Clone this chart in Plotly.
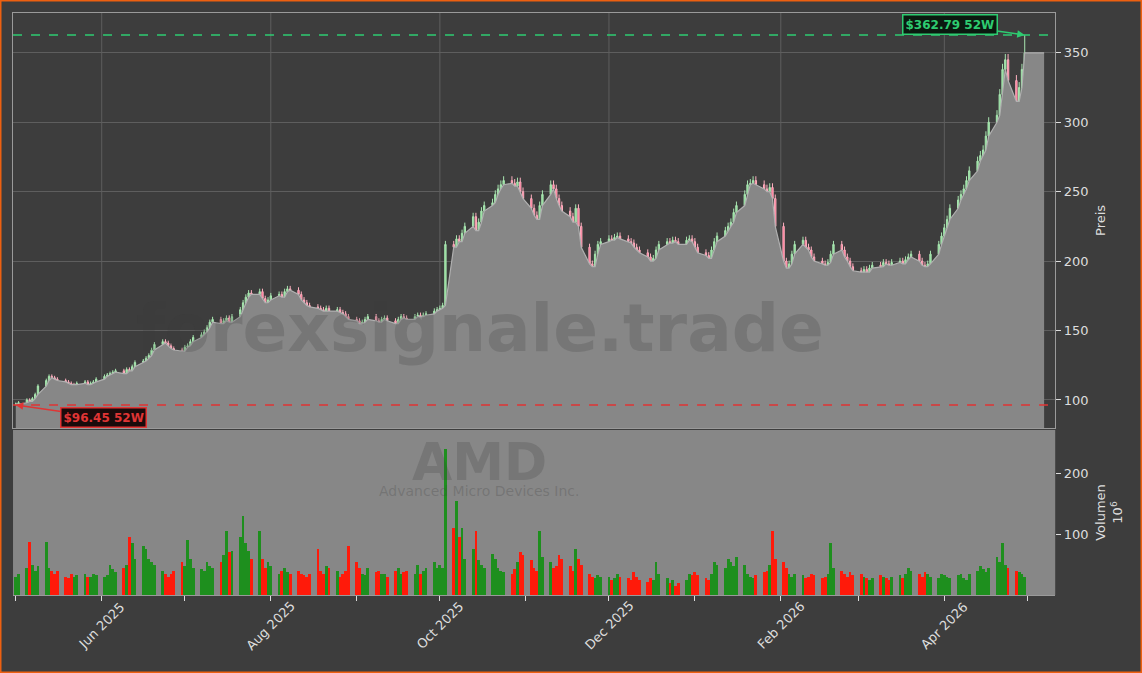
import pandas as pd
import plotly.graph_objects as go
from plotly.subplots import make_subplots

# Schlusskurse (USD), ein Wert pro Handelstag ab 01.05.2025
closes = [
    97, 98, 100, 99, 101, 104, 110, 114, 117, 116, 115, 114, 113, 112, 111,
    111, 112, 113, 111, 112, 113, 115, 117, 118, 119, 120, 121, 119, 122, 121,
    124, 127, 128, 130, 132, 136, 140, 142, 141, 139, 137, 136, 135, 138, 139,
    142, 145, 147, 149, 152, 156, 158, 155, 157, 159, 156, 160, 165, 170, 174,
    177, 176, 178, 173, 170, 172, 175, 176, 174, 178, 180, 179, 176, 172, 170,
    168, 167, 166, 165, 164, 166, 164, 165, 163, 162, 160, 158, 157, 155, 156,
    158, 160, 157, 156, 158, 159, 157, 155, 158, 160, 159, 158, 160, 161, 160,
    161, 162, 164, 165, 166, 168, 212, 210, 216, 214, 220, 225, 232, 222, 228,
    236, 240, 242, 248, 252, 255, 258, 256, 254, 257, 250, 245, 238, 233, 230,
    240, 248, 255, 252, 245, 240, 236, 232, 228, 238, 225, 210, 198, 196, 205,
    212, 214, 216, 215, 217, 218, 216, 214, 213, 210, 208, 206, 203, 200, 202,
    208, 212, 214, 213, 215, 214, 212, 215, 216, 214, 210, 206, 204, 202, 208,
    214, 218, 222, 225, 228, 235, 240, 248, 255, 256, 258, 255, 252, 250, 253,
    245, 225, 200, 195, 198, 205, 212, 215, 210, 208, 203, 200, 198, 197, 199,
    205, 212, 208, 203, 200, 196, 193, 192, 194, 192, 195, 197, 196, 199, 198,
    197, 199, 200, 198, 201, 203, 205, 200, 197, 196, 198, 205, 212, 218, 224,
    230, 238, 244, 248, 252, 258, 265, 272, 276, 280, 290, 300, 305, 320, 338,
    345, 330, 315, 325, 338, 350,
]

# Volumen in Mio. Stück
volumes = [
    30, 35, 45, 88, 50, 40, 48, 88, 45, 40, 35, 40, 30, 28, 35,
    30, 32, 35, 30, 30, 35, 33, 30, 32, 50, 42, 38, 45, 50, 95,
    85, 60, 80, 75, 60, 55, 50, 40, 35, 30, 35, 40, 55, 48, 90,
    60, 45, 42, 40, 55, 48, 45, 55, 65, 105, 70, 72, 95, 130, 85,
    72, 60, 105, 60, 45, 55, 48, 35, 40, 45, 38, 35, 40, 35, 32,
    30, 35, 75, 40, 35, 48, 45, 40, 30, 35, 40, 80, 55, 45, 35,
    32, 45, 38, 40, 35, 35, 30, 40, 45, 35, 38, 40, 35, 50, 35,
    40, 45, 55, 45, 50, 45, 240, 110, 155, 95, 110, 60, 75, 105, 58,
    50, 45, 68, 60, 45, 40, 38, 35, 42, 55, 70, 65, 58, 45, 40,
    105, 62, 55, 45, 48, 65, 60, 48, 40, 75, 60, 50, 35, 30, 28,
    32, 30, 30, 25, 28, 35, 30, 28, 25, 38, 30, 25, 22, 28, 25,
    55, 35, 28, 20, 25, 15, 20, 25, 35, 32, 38, 33, 28, 25, 35,
    55, 50, 45, 60, 55, 48, 62, 50, 35, 30, 28, 33, 38, 40, 50,
    105, 60, 55, 45, 35, 30, 35, 32, 28, 30, 35, 32, 28, 30, 35,
    85, 45, 40, 35, 30, 38, 32, 35, 30, 28, 25, 28, 32, 30, 28,
    25, 30, 32, 28, 35, 45, 40, 35, 30, 38, 35, 30, 28, 35, 32,
    30, 28, 32, 35, 28, 25, 35, 40, 48, 42, 38, 45, 62, 55, 85,
    50, 45, 40, 38, 35, 30,
]

high_52w = 362.79
low_52w = 96.45

dates = pd.bdate_range("2025-05-01", periods=len(closes))
opens = [closes[0]] + closes[:-1]
highs = [max(o, c) * 1.012 for o, c in zip(opens, closes)]
lows = [min(o, c) * 0.99 for o, c in zip(opens, closes)]
highs[-1] = high_52w
lows[0] = low_52w
body_low = [min(o, c) for o, c in zip(opens, closes)]

fig = make_subplots(rows=2, cols=1, shared_xaxes=True, vertical_spacing=0)

# Fläche unter dem Kurs
area_x = list(dates) + [dates[-1] + pd.Timedelta(days=7)]
area_y = body_low[:-1] + [closes[-1], closes[-1]]
fig.add_trace(go.Scatter(x=area_x, y=area_y, mode="lines", fill="tozeroy",
                         line=dict(color="#b0b0b0", width=1.2),
                         fillcolor="#878787", hoverinfo="skip", showlegend=False), row=1, col=1)

fig.add_trace(go.Candlestick(x=dates, open=opens, high=highs, low=lows, close=closes,
                             increasing=dict(line=dict(color="#a8e6b0", width=1), fillcolor="#8fdc9a"),
                             decreasing=dict(line=dict(color="#ffb0c0", width=1), fillcolor="#ff5f86"),
                             whiskerwidth=0, showlegend=False), row=1, col=1)

vol_colors = ["#1e8f1e" if c >= o else "#ff1a0a" for o, c in zip(opens, closes)]
fig.add_trace(go.Bar(x=dates, y=volumes, marker=dict(color=vol_colors, line=dict(width=0)),
                     showlegend=False), row=2, col=1)

# 52W Hoch / Tief
fig.add_hline(y=high_52w, line=dict(color="#2ecc71", dash="dash", width=1.5), row=1, col=1)
fig.add_hline(y=low_52w, line=dict(color="#e03535", dash="dash", width=1.5), row=1, col=1)

# Grauer Hintergrund im Volumenpanel
fig.add_shape(type="rect", xref="x2 domain", yref="y2 domain", x0=0, x1=1, y0=0, y1=1,
              fillcolor="#878787", line=dict(width=0), layer="below")

fig.add_annotation(x=dates[-1], y=high_52w, xref="x", yref="y", text="<b>$362.79 52W</b>",
                   ax=-75, ay=-11, showarrow=True, arrowhead=2, arrowcolor="#2ecc71", arrowwidth=1.5,
                   font=dict(color="#2ecc71", size=12, family="DejaVu Sans"),
                   bgcolor="#0b1a10", bordercolor="#2ecc71", borderwidth=1.5, borderpad=2)
fig.add_annotation(x=dates[0], y=low_52w, xref="x", yref="y", text="<b>$96.45 52W</b>",
                   ax=88, ay=13, showarrow=True, arrowhead=2, arrowcolor="#e03535", arrowwidth=1.5,
                   font=dict(color="#e03535", size=12, family="DejaVu Sans"),
                   bgcolor="#1a0b0b", bordercolor="#e03535", borderwidth=1.5, borderpad=2)

# Wasserzeichen
fig.add_annotation(x=0.42, y=0.512, xref="paper", yref="paper", text="<b>forexsignale.trade</b>",
                   showarrow=False, yanchor="middle",
                   font=dict(size=66, color="rgba(60,60,60,0.22)", family="DejaVu Sans"))
fig.add_annotation(x=0.42, y=0.313, xref="paper", yref="paper", text="<b>AMD</b>",
                   showarrow=False, yanchor="middle",
                   font=dict(size=52, color="rgba(60,60,60,0.22)", family="DejaVu Sans"))
fig.add_annotation(x=0.42, y=0.27, xref="paper", yref="paper", text="Advanced Micro Devices Inc.",
                   showarrow=False, yanchor="middle",
                   font=dict(size=14, color="rgba(60,60,60,0.25)", family="DejaVu Sans"))

# Rahmen
fig.add_shape(type="rect", xref="paper", yref="paper", x0=0, x1=1, y0=0, y1=1,
              line=dict(color="#ee6010", width=3), fillcolor="rgba(0,0,0,0)", layer="above")

tick_vals = pd.date_range("2025-05-01", "2026-05-01", freq="MS")
label_vals = [d for d in tick_vals if d.month % 2 == 0]

# Datumsbeschriftungen zentriert unter den Ticks (gedreht)
for d in label_vals:
    fig.add_annotation(x=d, y=0.071, xref="x2", yref="paper", text=d.strftime("%b %Y"),
                       textangle=-45, showarrow=False, xanchor="center", yanchor="middle",
                       font=dict(color="#dddddd", size=13, family="DejaVu Sans"))

axis_font = dict(color="#dddddd", size=13, family="DejaVu Sans")
fig.update_layout(
    width=1142, height=673, margin=dict(l=0, r=0, t=0, b=0, autoexpand=False),
    paper_bgcolor="#3d3d3d", plot_bgcolor="#3d3d3d",
    font=dict(family="DejaVu Sans", color="#dddddd"),
    bargap=0.0, showlegend=False,
    xaxis=dict(domain=[0.0114, 0.924], range=["2025-04-30", "2026-05-11"],
               rangeslider=dict(visible=False), showgrid=False,
               tickvals=tick_vals, showticklabels=False,
               showline=True, linecolor="#9a9a9a", mirror=True),
    xaxis2=dict(domain=[0.0114, 0.924], range=["2025-04-30", "2026-05-11"],
                tickvals=tick_vals, showticklabels=False, ticks="outside",
                tickcolor="#dddddd", ticklen=5, showgrid=False,
                showline=True, linecolor="#9a9a9a"),
    yaxis=dict(domain=[0.364, 0.981], range=[79.8, 378.8], side="right", dtick=50,
               ticks="outside", tickcolor="#dddddd", ticklen=5, tickfont=axis_font,
               gridcolor="#5e5e5e", showline=True, linecolor="#9a9a9a", mirror=True,
               title=dict(text="Preis", font=dict(size=13, color="#dddddd"), standoff=8)),
    yaxis2=dict(domain=[0.116, 0.361], range=[0, 272], side="right", tickvals=[100, 200],
                ticks="outside", tickcolor="#dddddd", ticklen=5, tickfont=axis_font,
                showgrid=False, zeroline=False,
                title=dict(text="Volumen<br>10<sup>6</sup>", font=dict(size=13, color="#dddddd"), standoff=8)),
)

# vertikale Gitterlinien nur an beschrifteten Monaten
for d in label_vals:
    fig.add_shape(type="line", xref="x", yref="y domain", x0=d, x1=d, y0=0, y1=1,
                  line=dict(color="#5e5e5e", width=1), layer="below")

fig.write_html("out.html", config={"displayModeBar": False},
               post_script="document.body.style.margin='0';")
